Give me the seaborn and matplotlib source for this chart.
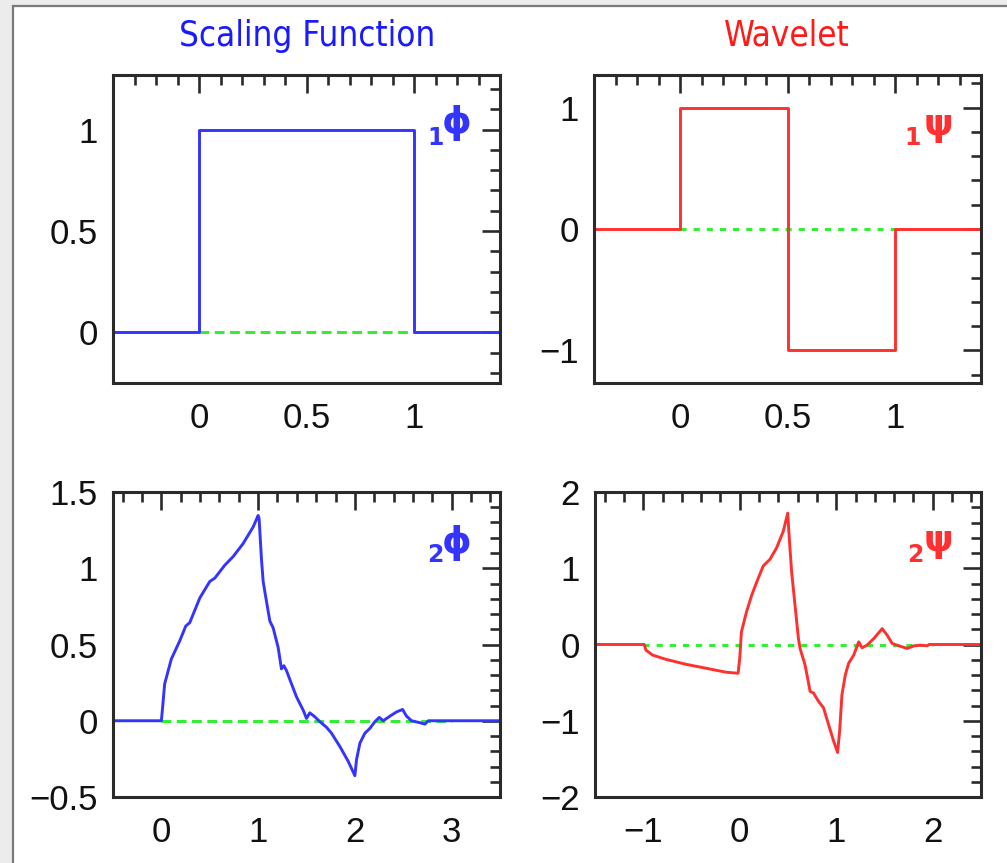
import numpy as np
import pandas as pd
import matplotlib
matplotlib.use("Agg")
import matplotlib.pyplot as plt
from matplotlib.patches import Rectangle
from matplotlib.ticker import MultipleLocator, FuncFormatter
import seaborn as sns

# ---------------- data ----------------
# Haar scaling function (1phi)
haar_phi_x = [-0.4, 0.0, 0.0, 1.0, 1.0, 1.4]
haar_phi_y = [0.0, 0.0, 1.0, 1.0, 0.0, 0.0]
# Haar wavelet (1psi)
haar_psi_x = [-0.4, 0.0, 0.0, 0.5, 0.5, 1.0, 1.0, 1.4]
haar_psi_y = [0.0, 0.0, 1.0, 1.0, -1.0, -1.0, 0.0, 0.0]

# Daubechies-2 scaling function (2phi)
d2_phi_x = [-0.5, 0.0, 0.01, 0.034, 0.103, 0.19, 0.252, 0.293, 0.397, 0.5, 0.552,
            0.655, 0.741, 0.845, 0.948, 1.0, 1.01, 1.034, 1.052, 1.086, 1.121,
            1.155, 1.207, 1.241, 1.266, 1.293, 1.345, 1.397, 1.466, 1.5, 1.534,
            1.586, 1.638, 1.707, 1.759, 1.845, 1.931, 2.0, 2.017, 2.052, 2.103,
            2.155, 2.207, 2.252, 2.293, 2.362, 2.431, 2.493, 2.534, 2.586, 2.672,
            2.724, 2.759, 3.5]
d2_phi_y = [0.0, 0.0, 0.069, 0.242, 0.405, 0.524, 0.621, 0.643, 0.805, 0.913, 0.935,
            1.02, 1.076, 1.162, 1.27, 1.346, 1.325, 1.065, 0.913, 0.784, 0.654,
            0.61, 0.48, 0.34, 0.361, 0.329, 0.242, 0.156, 0.069, 0.015, 0.052,
            0.026, -0.006, -0.043, -0.082, -0.169, -0.266, -0.36, -0.255, -0.147, -0.082,
            -0.05, -0.006, 0.022, 0.0, 0.03, 0.058, 0.074, 0.03, 0.0, -0.013,
            -0.022, 0.0, 0.0]

# Daubechies-2 wavelet (2psi)
d2_psi_x = [-1.5, -0.99, -0.972, -0.903, -0.764, -0.556, -0.347, -0.139, -0.017, 0.0,
            0.017, 0.069, 0.122, 0.174, 0.243, 0.313, 0.382, 0.451, 0.497, 0.514,
            0.538, 0.573, 0.608, 0.625, 0.677, 0.729, 0.764, 0.816, 0.868, 0.92,
            0.972, 1.014, 1.035, 1.059, 1.094, 1.128, 1.181, 1.233, 1.267, 1.319,
            1.389, 1.476, 1.528, 1.58, 1.649, 1.736, 1.806, 1.875, 1.944, 1.962, 2.5]
d2_psi_y = [0.0, 0.0, -0.074, -0.139, -0.195, -0.26, -0.312, -0.364, -0.377, -0.18,
            0.165, 0.424, 0.64, 0.814, 1.03, 1.117, 1.268, 1.485, 1.723, 1.377,
            0.944, 0.511, 0.078, -0.052, -0.268, -0.615, -0.636, -0.745, -0.831, -1.048,
            -1.264, -1.416, -1.134, -0.658, -0.398, -0.247, -0.139, 0.035, -0.043, -0.009,
            0.078, 0.208, 0.121, 0.013, -0.017, -0.052, -0.017, -0.009, -0.017, 0.0, 0.0]

# zero reference spans (green dashed)
zero_span_haar_phi = [0.0, 1.0]
zero_span_haar_psi = [0.0, 1.0]
zero_span_d2_phi = [0.0, 3.0]
zero_span_d2_psi = [-1.0, 2.0]

titles = ["Scaling Function", "Wavelet"]
labels = [("1", "\u03d5"), ("1", "\u03c8"), ("2", "\u03d5"), ("2", "\u03c8")]

# ---------------- style ----------------
sns.set_style("white")
plt.rcParams["font.family"] = ["Liberation Sans", "DejaVu Sans"]

BLUE = "#3434ff"
RED = "#ff3030"
GREEN = "#33ee33"
FRAME = "#2a2a2a"

W, H = 1007, 863
fig = plt.figure(figsize=(W / 100, H / 100), dpi=100)
fig.patch.set_facecolor("#ececec")
fig.patches.append(Rectangle((13 / W, -0.05), 1.2, 1 - 6 / H + 0.05,
                             transform=fig.transFigure, facecolor="white",
                             edgecolor="#7a7a7a", linewidth=1.6, zorder=-10))


def px_axes(x0, y0, x1, y1):
    ax = fig.add_axes([x0 / W, 1 - y1 / H, (x1 - x0) / W, (y1 - y0) / H])
    ax.set_zorder(2)
    return ax


ax_tl = px_axes(113, 75, 500, 383)
ax_tr = px_axes(594, 75, 981, 383)
ax_bl = px_axes(113, 492, 500, 797)
ax_br = px_axes(595, 492, 981, 797)


def minus_fmt(v, pos):
    s = ("%g" % v)
    return s.replace("-", "\u2212")


def style_axes(ax, xlim, ylim, xmaj, xmin, ymaj, ymin):
    ax.set_xlim(*xlim)
    ax.set_ylim(*ylim)
    ax.xaxis.set_major_locator(MultipleLocator(xmaj))
    ax.xaxis.set_minor_locator(MultipleLocator(xmin))
    ax.yaxis.set_major_locator(MultipleLocator(ymaj))
    ax.yaxis.set_minor_locator(MultipleLocator(ymin))
    ax.xaxis.set_major_formatter(FuncFormatter(minus_fmt))
    ax.yaxis.set_major_formatter(FuncFormatter(minus_fmt))
    ax.tick_params(which="both", direction="in", top=True, right=True,
                   color=FRAME, width=1.9)
    ax.tick_params(which="major", length=13, labelsize=25, labelcolor="#111111")
    ax.tick_params(which="minor", length=7)
    ax.tick_params(axis="x", which="major", pad=14)
    ax.tick_params(axis="y", which="major", pad=11)
    for sp in ax.spines.values():
        sp.set_visible(True)
        sp.set_color(FRAME)
        sp.set_linewidth(2.2)
    ax.set_xlabel("")
    ax.set_ylabel("")


def draw(ax, xs, ys, color, span, dash):
    ax.hlines(0, span[0], span[1], colors=GREEN, linewidth=2.2,
              linestyles=dash, zorder=1)
    df = pd.DataFrame({"x": xs, "y": ys})
    sns.lineplot(data=df, x="x", y="y", ax=ax, color=color, linewidth=2.1,
                 estimator=None, sort=False, zorder=2)


draw(ax_tl, haar_phi_x, haar_phi_y, BLUE, zero_span_haar_phi, (0, (3.2, 1.8)))
draw(ax_tr, haar_psi_x, haar_psi_y, RED, zero_span_haar_psi, (0, (2.0, 2.3)))
draw(ax_bl, d2_phi_x, d2_phi_y, BLUE, zero_span_d2_phi, (0, (3.2, 1.8)))
draw(ax_br, d2_psi_x, d2_psi_y, RED, zero_span_d2_psi, (0, (2.0, 2.3)))

style_axes(ax_tl, (-0.4, 1.4), (-0.25, 1.27), 0.5, 0.1, 0.5, 0.1)
style_axes(ax_tr, (-0.4, 1.4), (-1.27, 1.27), 0.5, 0.1, 1.0, 0.2)
style_axes(ax_bl, (-0.5, 3.5), (-0.5, 1.5), 1.0, 0.2, 0.5, 0.1)
style_axes(ax_br, (-1.5, 2.5), (-2.0, 2.0), 1.0, 0.2, 1.0, 0.2)

# function labels
label_pos = [
    (ax_tl, BLUE, 0.889, 0.845, 0.855, 0.795),
    (ax_tr, RED, 0.889, 0.838, 0.845, 0.795),
    (ax_bl, BLUE, 0.889, 0.833, 0.855, 0.795),
    (ax_br, RED, 0.889, 0.84, 0.852, 0.795),
]
for (ax, col, gx, gy, sx, sy), (sub, glyph) in zip(label_pos, labels):
    ax.text(gx, gy, glyph, transform=ax.transAxes, ha="center", va="center",
            color=col, fontsize=27, fontweight="bold",
            family=["DejaVu Sans"])
    ax.text(sx, sy, sub, transform=ax.transAxes, ha="right", va="center",
            color=col, fontsize=17, fontweight="bold",
            family=["DejaVu Sans"])

# column titles
fig.text(307 / W, 1 - 36 / H, titles[0], ha="center", va="center",
         color="#1a1aff", fontsize=25, family=["DejaVu Sans"],
         fontstretch="condensed")
fig.text(787 / W, 1 - 36 / H, titles[1], ha="center", va="center",
         color="#ff1a1a", fontsize=25, family=["DejaVu Sans"],
         fontstretch="condensed")

fig.savefig("out.png", dpi=100, facecolor=fig.get_facecolor())
